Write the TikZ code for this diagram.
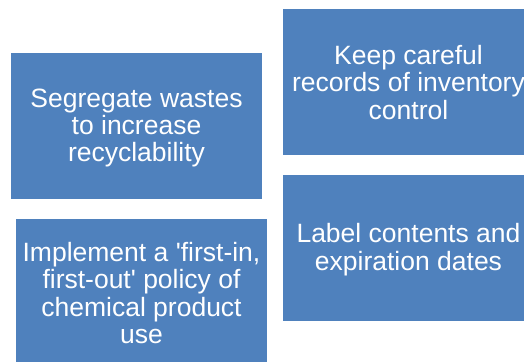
\documentclass[tikz,border=0pt]{standalone}
\usepackage{fontspec}
\setmainfont{Liberation Sans}
\definecolor{boxblue}{HTML}{4F81BD}
\begin{document}
\begin{tikzpicture}[x=1pt,y=-1pt,
  card/.style={fill=boxblue, draw=none, minimum width=251pt, minimum height=146pt, inner sep=0pt},
  cardtext/.style={text=white, align=center, inner sep=0pt, font=\fontsize{26.5}{27.3}\selectfont}]
\useasboundingbox (0,0) rectangle (524,361);
\clip (0,0) rectangle (524,361);
\node[card] (seg) at (136.5,126) {};
\node[card] (keep) at (408.5,82) {};
\node[card] (label) at (408.5,248) {};
\node[card] (fifo) at (141.5,292) {};
\node[cardtext] (segt) at ([yshift=-2pt]seg.center) {Segregate wastes\\to increase\\recyclability};
\node[cardtext] (keept) at ([yshift=-0.5pt]keep.center) {Keep careful\\records of inventory\\control};
\node[cardtext] (labelt) at ([yshift=-1.5pt]label.center) {Label contents and\\expiration dates};
\node[cardtext] (fifot) at ([yshift=-1pt]fifo.center) {Implement a \textquotesingle first-in,\\first-out\textquotesingle{} policy of\\chemical product\\use};
\end{tikzpicture}
\end{document}
